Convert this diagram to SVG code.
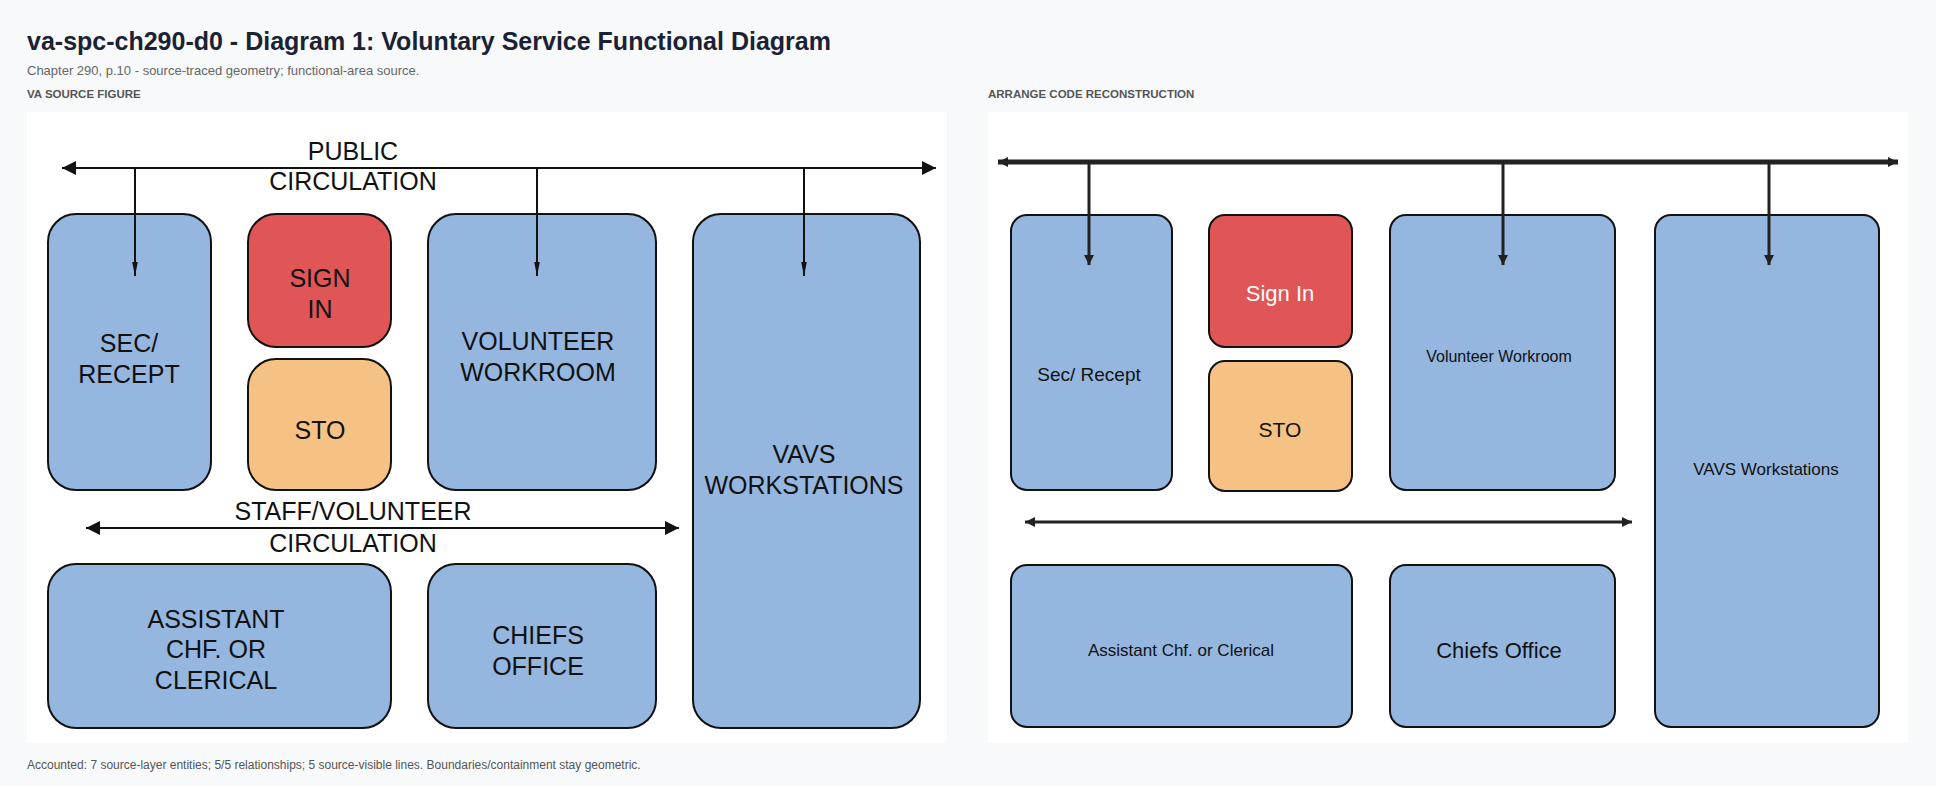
<svg xmlns="http://www.w3.org/2000/svg" width="1936" height="786" viewBox="0 0 1936 786">
<style>
.t{font-family:"Liberation Sans",Arial,sans-serif}
.blue{fill:#94b6df;stroke:#111;stroke-width:2}
.red{fill:#e05555;stroke:#111;stroke-width:2}
.org{fill:#f5c283;stroke:#111;stroke-width:2}
.src{font-family:"Liberation Sans",Arial,sans-serif;font-size:25px;fill:#111;text-anchor:middle}
.rc{font-family:"Liberation Sans",Arial,sans-serif;fill:#111;text-anchor:middle}
.ln{stroke:#111;stroke-width:2;fill:none}
.lt{stroke:#222;stroke-width:5;fill:none}
.la{stroke:#222;stroke-width:3;fill:none}
</style>
<defs>
<marker id="ah" viewBox="0 0 10 10" refX="10" refY="5" markerWidth="10" markerHeight="10" markerUnits="userSpaceOnUse" orient="auto-start-reverse"><path d="M0,0 L10,5 L0,10 z" fill="#111"/></marker>
<marker id="ab" viewBox="0 0 10 10" refX="10" refY="5" markerWidth="30" markerHeight="14" markerUnits="userSpaceOnUse" orient="auto-start-reverse"><path d="M0,0 L10,5 L0,10 z" fill="#111"/></marker>
<marker id="ad" viewBox="0 0 10 10" refX="10" refY="5" markerWidth="14" markerHeight="46" markerUnits="userSpaceOnUse" orient="auto"><path d="M0,3 L10,5 L0,7 z" fill="#111"/></marker>
<marker id="as" viewBox="0 0 10 10" refX="10" refY="5" markerWidth="10" markerHeight="10" markerUnits="userSpaceOnUse" orient="auto-start-reverse"><path d="M0,0 L10,5 L0,10 z" fill="#222"/></marker>
</defs>
<rect width="1936" height="786" fill="#f8f9fb"/>
<text class="t" x="27" y="50" font-size="25" font-weight="bold" fill="#1a2233">va-spc-ch290-d0 - Diagram 1: Voluntary Service Functional Diagram</text>
<text class="t" x="27" y="75" font-size="13" fill="#666">Chapter 290, p.10 - source-traced geometry; functional-area source.</text>
<text class="t" x="27" y="98" font-size="11.5" font-weight="bold" fill="#555">VA SOURCE FIGURE</text>
<text class="t" x="988" y="98" font-size="11.5" font-weight="bold" fill="#555">ARRANGE CODE RECONSTRUCTION</text>
<rect x="27" y="112" width="920" height="631" fill="#fff"/>
<rect x="988" y="112" width="920" height="631" fill="#fff"/>
<text class="t" x="27" y="769" font-size="12" fill="#555">Accounted: 7 source-layer entities; 5/5 relationships; 5 source-visible lines. Boundaries/containment stay geometric.</text>

<g id="src-sec"><rect class="blue" x="48" y="214" width="163" height="276" rx="28"/><text class="src" x="129" y="352">SEC/</text><text class="src" x="129" y="383">RECEPT</text></g>
<g id="src-signin"><rect class="red" x="248" y="214" width="143" height="133" rx="28"/><text class="src" x="320" y="287">SIGN</text><text class="src" x="320" y="318">IN</text></g>
<g id="src-sto"><rect class="org" x="248" y="359" width="143" height="131" rx="28"/><text class="src" x="320" y="439">STO</text></g>
<g id="src-vol"><rect class="blue" x="428" y="214" width="228" height="276" rx="28"/><text class="src" x="538" y="350">VOLUNTEER</text><text class="src" x="538" y="381">WORKROOM</text></g>
<g id="src-vavs"><rect class="blue" x="693" y="214" width="227" height="514" rx="28"/><text class="src" x="804" y="463">VAVS</text><text class="src" x="804" y="494">WORKSTATIONS</text></g>
<g id="src-asst"><rect class="blue" x="48" y="564" width="343" height="164" rx="28"/><text class="src" x="216" y="628">ASSISTANT</text><text class="src" x="216" y="658">CHF.  OR</text><text class="src" x="216" y="689">CLERICAL</text></g>
<g id="src-chiefs"><rect class="blue" x="428" y="564" width="228" height="164" rx="28"/><text class="src" x="538" y="644">CHIEFS</text><text class="src" x="538" y="675">OFFICE</text></g>
<text class="src" x="353" y="160">PUBLIC</text>
<text class="src" x="353" y="190">CIRCULATION</text>
<text class="src" x="353" y="520">STAFF/VOLUNTEER</text>
<text class="src" x="353" y="552">CIRCULATION</text>

<g id="rc-sec"><rect class="blue" x="1011" y="215" width="161" height="275" rx="16"/><text class="rc" x="1089" y="381" font-size="19">Sec/ Recept</text></g>
<g id="rc-signin"><rect class="red" x="1209" y="215" width="143" height="132" rx="16"/><text class="rc" x="1280" y="301" font-size="22" fill="#fff" style="fill:#fff">Sign In</text></g>
<g id="rc-sto"><rect class="org" x="1209" y="361" width="143" height="130" rx="16"/><text class="rc" x="1280" y="437" font-size="21">STO</text></g>
<g id="rc-vol"><rect class="blue" x="1390" y="215" width="225" height="275" rx="16"/><text class="rc" x="1499" y="362" font-size="16">Volunteer Workroom</text></g>
<g id="rc-vavs"><rect class="blue" x="1655" y="215" width="224" height="512" rx="16"/><text class="rc" x="1766" y="475" font-size="17">VAVS Workstations</text></g>
<g id="rc-asst"><rect class="blue" x="1011" y="565" width="341" height="162" rx="16"/><text class="rc" x="1181" y="656" font-size="17">Assistant Chf. or Clerical</text></g>
<g id="rc-chiefs"><rect class="blue" x="1390" y="565" width="225" height="162" rx="16"/><text class="rc" x="1499" y="658" font-size="22">Chiefs Office</text></g>

<g id="connectors">
<line class="ln" x1="62" y1="168" x2="936" y2="168" marker-start="url(#ab)" marker-end="url(#ab)"/>
<line class="ln" x1="135" y1="168" x2="135" y2="276" marker-end="url(#ad)"/>
<line class="ln" x1="537" y1="168" x2="537" y2="276" marker-end="url(#ad)"/>
<line class="ln" x1="804" y1="168" x2="804" y2="276" marker-end="url(#ad)"/>
<line class="ln" x1="86" y1="528" x2="679" y2="528" marker-start="url(#ab)" marker-end="url(#ab)"/>
<line class="lt" x1="998" y1="162" x2="1898" y2="162" marker-start="url(#as)" marker-end="url(#as)"/>
<line class="la" x1="1089" y1="162" x2="1089" y2="265" marker-end="url(#as)"/>
<line class="la" x1="1503" y1="162" x2="1503" y2="265" marker-end="url(#as)"/>
<line class="la" x1="1769" y1="162" x2="1769" y2="265" marker-end="url(#as)"/>
<line class="la" x1="1025" y1="522" x2="1632" y2="522" marker-start="url(#as)" marker-end="url(#as)"/>
</g>
</svg>
